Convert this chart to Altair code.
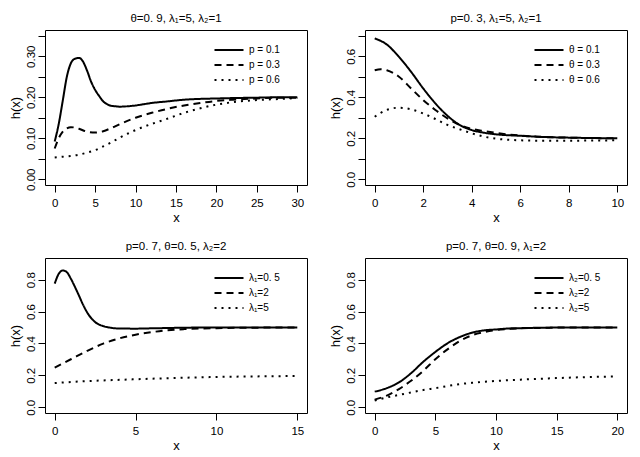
import altair as alt
import pandas as pd

FONT = "Liberation Sans"

# ---------------- Panel 1: theta=0.9, l1=5, l2=1 ----------------
p1_title = "θ=0. 9, λ₁=5, λ₂=1"
p1_labels = ["p = 0.1", "p = 0.3", "p = 0.6"]
p1_x_a = [0, 0.5, 1, 1.5, 2, 2.5, 3, 3.5, 4, 4.5, 5, 5.5, 6, 6.5, 7, 7.5, 8, 9, 10, 11, 12, 14, 16, 18, 20, 22, 25, 28, 30]
p1_y_a = [0.092, 0.135, 0.192, 0.25, 0.283, 0.294, 0.296, 0.287, 0.265, 0.238, 0.218, 0.203, 0.19, 0.183, 0.179, 0.178, 0.177, 0.178, 0.18, 0.183, 0.186, 0.19, 0.194, 0.196, 0.197, 0.198, 0.199, 0.2, 0.2]
p1_x_b = [0, 0.5, 1, 1.5, 2, 2.5, 3, 4, 5, 6, 7, 8, 10, 12, 14, 16, 18, 20, 22, 25, 28, 30]
p1_y_b = [0.075, 0.1, 0.116, 0.124, 0.127, 0.126, 0.123, 0.116, 0.114, 0.117, 0.125, 0.134, 0.15, 0.162, 0.172, 0.18, 0.186, 0.191, 0.194, 0.197, 0.199, 0.199]
p1_x_c = [0, 1, 2, 3, 4, 5, 6, 7, 8, 9, 10, 12, 14, 16, 18, 20, 22, 25, 28, 30]
p1_y_c = [0.053, 0.055, 0.057, 0.06, 0.065, 0.071, 0.08, 0.09, 0.101, 0.111, 0.12, 0.135, 0.148, 0.162, 0.173, 0.182, 0.188, 0.193, 0.196, 0.198]
p1_xticks = [0, 5, 10, 15, 20, 25, 30]
p1_yticks = [0, 0.05, 0.1, 0.15, 0.2, 0.25, 0.3, 0.35]

# ---------------- Panel 2: p=0.3, l1=5, l2=1 ----------------
p2_title = "p=0. 3, λ₁=5, λ₂=1"
p2_labels = ["θ = 0.1", "θ = 0.3", "θ = 0.6"]
p2_x_a = [0, 0.5, 1, 1.5, 2, 2.5, 3, 3.5, 4, 4.5, 5, 6, 7, 8, 9, 10]
p2_y_a = [0.687, 0.657, 0.597, 0.524, 0.443, 0.37, 0.31, 0.265, 0.24, 0.227, 0.219, 0.212, 0.206, 0.203, 0.201, 0.2]
p2_x_b = [0, 0.25, 0.5, 1, 1.5, 2, 2.5, 3, 3.5, 4, 4.5, 5, 6, 7, 8, 9, 10]
p2_y_b = [0.532, 0.537, 0.532, 0.5, 0.443, 0.386, 0.338, 0.297, 0.265, 0.246, 0.235, 0.226, 0.213, 0.206, 0.203, 0.201, 0.2]
p2_x_c = [0, 0.5, 1, 1.5, 2, 2.5, 3, 3.5, 4, 4.5, 5, 6, 7, 8, 9, 10]
p2_y_c = [0.305, 0.338, 0.349, 0.341, 0.321, 0.294, 0.265, 0.244, 0.224, 0.208, 0.198, 0.19, 0.188, 0.188, 0.189, 0.19]
p2_xticks = [0, 2, 4, 6, 8, 10]
p2_yticks = [0, 0.1, 0.2, 0.3, 0.4, 0.5, 0.6, 0.7]

# ---------------- Panel 3: p=0.7, theta=0.5, l2=2 ----------------
p3_title = "p=0. 7, θ=0. 5, λ₂=2"
p3_labels = ["λ₁=0. 5", "λ₁=2", "λ₁=5"]
p3_x_a = [0, 0.25, 0.5, 0.75, 1, 1.25, 1.5, 1.75, 2, 2.5, 3, 3.5, 4, 5, 6, 7, 8, 10, 12, 15]
p3_y_a = [0.775, 0.837, 0.858, 0.847, 0.806, 0.755, 0.7, 0.644, 0.596, 0.534, 0.509, 0.498, 0.494, 0.493, 0.495, 0.497, 0.499, 0.5, 0.5, 0.5]
p3_x_b = [0, 1, 2, 3, 4, 5, 6, 7, 8, 10, 12, 15]
p3_y_b = [0.249, 0.301, 0.353, 0.399, 0.432, 0.455, 0.471, 0.483, 0.49, 0.496, 0.499, 0.5]
p3_x_c = [0, 2, 4, 6, 8, 10, 12, 15]
p3_y_c = [0.152, 0.164, 0.172, 0.179, 0.185, 0.19, 0.193, 0.196]
p3_xticks = [0, 5, 10, 15]
p3_yticks = [0, 0.2, 0.4, 0.6, 0.8]

# ---------------- Panel 4: p=0.7, theta=0.9, l1=2 ----------------
p4_title = "p=0. 7, θ=0. 9, λ₁=2"
p4_labels = ["λ₂=0. 5", "λ₂=2", "λ₂=5"]
p4_x_a = [0, 1, 2, 3, 4, 5, 6, 7, 8, 9, 10, 11, 12, 14, 16, 20]
p4_y_a = [0.098, 0.12, 0.156, 0.214, 0.285, 0.347, 0.401, 0.44, 0.467, 0.482, 0.488, 0.494, 0.496, 0.499, 0.5, 0.5]
p4_x_b = [0, 1, 2, 3, 4, 5, 6, 7, 8, 9, 10, 11, 12, 14, 16, 20]
p4_y_b = [0.048, 0.073, 0.114, 0.166, 0.228, 0.301, 0.363, 0.415, 0.451, 0.471, 0.484, 0.491, 0.495, 0.498, 0.5, 0.5]
p4_x_c = [0, 1, 2, 3, 4, 5, 6, 7, 8, 10, 12, 15, 18, 20]
p4_y_c = [0.042, 0.062, 0.077, 0.093, 0.108, 0.12, 0.133, 0.145, 0.153, 0.165, 0.173, 0.183, 0.19, 0.193]
p4_xticks = [0, 5, 10, 15, 20]
p4_yticks = [0, 0.2, 0.4, 0.6, 0.8]

DASHES = [[1, 0], [7, 5], [2, 5]]
W, H = 262, 155


def panel(title, labels, xs_list, ys_list, xdom, xticks, ydom, yticks, ylab_expr):
    rows = []
    for lab, xs, ys in zip(labels, xs_list, ys_list):
        for xv, yv in zip(xs, ys):
            rows.append({"x": xv, "h": yv, "series": lab})
    df = pd.DataFrame(rows)
    return alt.Chart(df).mark_line(
        color="black", strokeWidth=2, interpolate="monotone", strokeCap="butt"
    ).encode(
        x=alt.X("x:Q", scale=alt.Scale(domain=xdom, nice=False, zero=False),
                axis=alt.Axis(values=xticks, title="x", format="d")),
        y=alt.Y("h:Q", scale=alt.Scale(domain=ydom, nice=False, zero=False),
                axis=alt.Axis(values=yticks, title="h(x)", labelExpr=ylab_expr)),
        strokeDash=alt.StrokeDash(
            "series:N",
            scale=alt.Scale(domain=labels, range=DASHES),
            legend=alt.Legend(
                title=None, orient="none", legendX=178, legendY=14,
                symbolType="M-2.9,0H2.9", symbolSize=100, symbolStrokeWidth=2,
                symbolStrokeColor="black", labelFont=FONT, labelFontSize=10,
                labelColor="black", labelOffset=14, rowPadding=4, padding=0,
            ),
        ),
    ).properties(
        width=W, height=H,
        title=alt.TitleParams(text=title, font=FONT, fontSize=11.5, fontWeight="normal",
                              anchor="middle", offset=6, color="black"),
    )


c1 = panel(p1_title, p1_labels, [p1_x_a, p1_x_b, p1_x_c], [p1_y_a, p1_y_b, p1_y_c],
           [-1.2, 31.2], p1_xticks, [-0.014, 0.364], p1_yticks,
           "round(datum.value*100) % 10 == 0 ? format(datum.value, '.2f') : ''")
c2 = panel(p2_title, p2_labels, [p2_x_a, p2_x_b, p2_x_c], [p2_y_a, p2_y_b, p2_y_c],
           [-0.4, 10.4], p2_xticks, [-0.028, 0.728], p2_yticks,
           "round(datum.value*10) % 2 == 0 ? format(datum.value, '.1f') : ''")
c3 = panel(p3_title, p3_labels, [p3_x_a, p3_x_b, p3_x_c], [p3_y_a, p3_y_b, p3_y_c],
           [-0.6, 15.6], p3_xticks, [-0.036, 0.936], p3_yticks,
           "format(datum.value, '.1f')")
c4 = panel(p4_title, p4_labels, [p4_x_a, p4_x_b, p4_x_c], [p4_y_a, p4_y_b, p4_y_c],
           [-0.8, 20.8], p4_xticks, [-0.036, 0.936], p4_yticks,
           "format(datum.value, '.1f')")

chart = alt.concat(
    c1, c2, c3, c4, columns=2, spacing={"row": 73, "column": 58}, bounds="flush"
).resolve_scale(
    x="independent", y="independent", strokeDash="independent"
).resolve_legend(
    strokeDash="independent"
).configure_view(
    stroke="black", strokeWidth=1
).configure_axis(
    domain=False, grid=False, ticks=True, tickSize=7, tickColor="black", tickWidth=1,
    labelFont=FONT, labelFontSize=11.5, labelColor="black", labelFlush=False, labelOverlap=False,
    titleFont=FONT, titleFontSize=13, titleFontWeight="normal", titleColor="black",
).configure_axisLeft(
    labelAngle=-90, labelAlign="center", labelBaseline="bottom", labelPadding=2, titlePadding=3,
).configure_axisBottom(
    labelPadding=5, titlePadding=3,
).properties(
    padding={"left": 0, "top": 4, "right": 0, "bottom": 0}
)

chart.save("out.html", embed_options={"renderer": "svg", "actions": False})
